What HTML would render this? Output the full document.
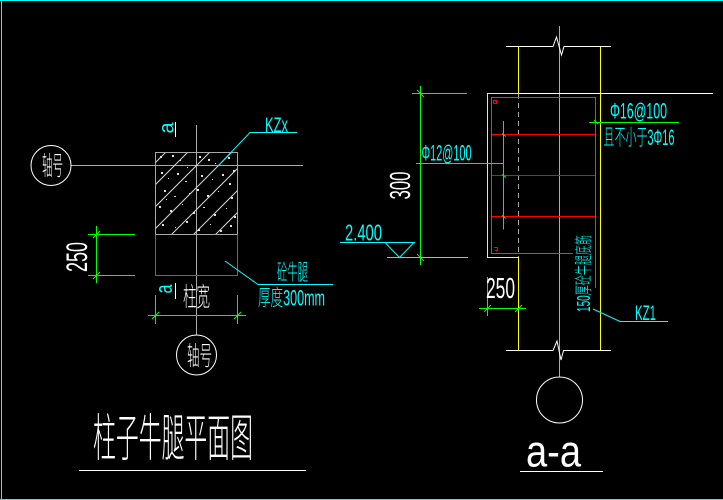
<!DOCTYPE html>
<html><head><meta charset="utf-8"><style>html,body{margin:0;padding:0;background:#000}svg{display:block}.t{font-weight:200}</style></head>
<body>
<svg width="723" height="500" viewBox="0 0 723 500" xmlns="http://www.w3.org/2000/svg" font-family="'Liberation Sans','Noto Sans CJK SC',sans-serif">
<defs>
<clipPath id="hb"><rect x="156" y="153" width="81" height="81"/></clipPath>
</defs>
<rect width="723" height="500" fill="#000"/>
<!-- border -->
<path d="M0 0.5H723M1.5 0V500M0 499.5H723" stroke="#00ffff" stroke-width="1" fill="none"/>

<!-- ============ LEFT: plan ============ -->
<path d="M71 165.5H303M196.5 125V335" stroke="#aaaaaa" stroke-width="1" fill="none"/>
<g clip-path="url(#hb)" stroke="#d8d8d8" stroke-width="1">
<path d="M318 0L0 318M340 0L0 340M362 0L0 362M384 0L0 384M406 0L0 406M428 0L0 428M450 0L0 450M472 0L0 472"/>
</g>
<g fill="#e0e0e0" clip-path="url(#hb)">
<rect x="160" y="156" width="2" height="2"/><rect x="172" y="155" width="2" height="2"/><rect x="180" y="160" width="1" height="1"/>
<rect x="199" y="156" width="2" height="2"/><rect x="208" y="159" width="2" height="2"/><rect x="215" y="163" width="1" height="1"/>
<rect x="228" y="157" width="2" height="2"/><rect x="233" y="170" width="2" height="2"/><rect x="161" y="172" width="2" height="2"/>
<rect x="168" y="178" width="1" height="1"/><rect x="177" y="173" width="2" height="2"/><rect x="185" y="181" width="2" height="1"/>
<rect x="201" y="175" width="2" height="2"/><rect x="212" y="179" width="1" height="1"/><rect x="222" y="174" width="2" height="2"/>
<rect x="229" y="183" width="2" height="2"/><rect x="164" y="190" width="2" height="2"/><rect x="174" y="196" width="2" height="1"/>
<rect x="189" y="193" width="1" height="1"/><rect x="197" y="189" width="2" height="2"/><rect x="207" y="195" width="2" height="2"/>
<rect x="218" y="191" width="1" height="1"/><rect x="231" y="197" width="2" height="2"/><rect x="159" y="206" width="2" height="2"/>
<rect x="170" y="210" width="2" height="2"/><rect x="182" y="204" width="1" height="1"/><rect x="193" y="212" width="2" height="2"/>
<rect x="203" y="207" width="2" height="1"/><rect x="214" y="214" width="2" height="2"/><rect x="226" y="208" width="1" height="1"/>
<rect x="234" y="216" width="2" height="2"/><rect x="162" y="224" width="2" height="2"/><rect x="175" y="227" width="1" height="1"/>
<rect x="186" y="221" width="2" height="2"/><rect x="198" y="229" width="2" height="2"/><rect x="210" y="224" width="1" height="1"/>
<rect x="220" y="230" width="2" height="2"/><rect x="230" y="225" width="2" height="2"/><rect x="187" y="167" width="1" height="1"/>
<rect x="166" y="199" width="1" height="1"/>
</g>
<rect x="155.5" y="152.5" width="82" height="82" fill="none" stroke="#a8a8a8" stroke-width="1"/>
<path d="M155.5 234.5V275.5H237.5V234.5" fill="none" stroke="#ff00ff" stroke-width="1"/>
<circle cx="51" cy="165.5" r="20" fill="none" stroke="#fff" stroke-width="1"/>
<text class="t" x="42" y="175" font-size="26" fill="#fff" textLength="21" lengthAdjust="spacingAndGlyphs">轴号</text>
<circle cx="196.5" cy="355" r="20" fill="none" stroke="#fff" stroke-width="1"/>
<text class="t" x="187" y="365" font-size="26" fill="#fff" textLength="25" lengthAdjust="spacingAndGlyphs">轴号</text>

<path d="M96.5 226V283M88 234.5H135M88 275.5H135" stroke="#00ff00" stroke-width="1" fill="none"/>
<path d="M93 238L100 231M93 279L100 272" stroke="#00ff00" stroke-width="1"/>
<text transform="translate(87,272) rotate(-90)" font-size="30" fill="#fff" textLength="30" lengthAdjust="spacingAndGlyphs">250</text>

<path d="M148 315.5H246M155.5 295V324M237.5 295V324" stroke="#00ff00" stroke-width="1" fill="none"/>
<path d="M152 319L159 312M234 319L241 312" stroke="#00ff00" stroke-width="1"/>
<text class="t" x="183" y="306" font-size="26" fill="#fff" textLength="27" lengthAdjust="spacingAndGlyphs">柱宽</text>

<path d="M175.5 122V137M175.5 283V299" stroke="#fff" stroke-width="1"/>
<text transform="translate(173.5,133.5) rotate(-90)" font-size="21" fill="#00ffff" textLength="11" lengthAdjust="spacingAndGlyphs">a</text>
<text transform="translate(172,293.5) rotate(-90)" font-size="24" fill="#00ffff" textLength="9" lengthAdjust="spacingAndGlyphs">a</text>

<path d="M218 166L250 132.5H297" stroke="#00ffff" stroke-width="1" fill="none"/>
<text x="265" y="132" font-size="21" fill="#00ffff" textLength="23" lengthAdjust="spacingAndGlyphs">KZx</text>
<path d="M225 261L258 284.5H333" stroke="#00ffff" stroke-width="1" fill="none"/>
<text class="t" x="277" y="280" font-size="22" fill="#00ffff" textLength="31" lengthAdjust="spacingAndGlyphs">砼牛腿</text>
<text class="t" x="258" y="305.5" font-size="22" fill="#00ffff" textLength="67" lengthAdjust="spacingAndGlyphs">厚度300mm</text>

<text class="t" x="93" y="456" font-size="51" fill="#fff" textLength="160" lengthAdjust="spacingAndGlyphs">柱子牛腿平面图</text>
<path d="M79 470.5H306" stroke="#fff" stroke-width="1"/>

<!-- ============ RIGHT: section a-a ============ -->
<path d="M559.5 26V377" stroke="#aaaaaa" stroke-width="1"/>
<path d="M506 46.5H553L556.5 37L561.5 55L564 46.5H611" stroke="#fff" stroke-width="1" fill="none"/>
<path d="M506 350.5H553L557 341L561 360L563.5 350.5H611" stroke="#fff" stroke-width="1" fill="none"/>
<path d="M518.5 46.5V93.5H487.5V257.5H518.5V350M600.5 46.5V350" stroke="#ffff00" stroke-width="1" fill="none"/>
<path d="M518.5 94V257" stroke="#aaaaaa" stroke-width="1" stroke-dasharray="5,4"/>
<path d="M519 93.5H713" stroke="#fff" stroke-width="1"/>
<path d="M573 253.5H491.5V97.5H595.5V288" stroke="#ff00ff" stroke-width="1" fill="none"/>
<path d="M492 134.5H595M492 175.5H595M492 216.5H595" stroke="#ff0000" stroke-width="1"/>
<rect x="493.5" y="100.5" width="3" height="3" fill="none" stroke="#ff0000" stroke-width="1"/>
<path d="M494 247.5H497.5V250.5H495" stroke="#ff0000" stroke-width="1" fill="none"/>
<path d="M503.5 121V229.5M416 163.5H503.5" stroke="#00ff00" stroke-width="1" fill="none"/>
<path d="M502 133.5L506 136.5M502 174.5L506 177.5M502 215.5L506 218.5" stroke="#00ff00" stroke-width="1"/>
<path d="M420.5 86V265M412 93.5H467" stroke="#00ff00" stroke-width="1" fill="none"/>
<path d="M387 257.5H468" stroke="#00ffff" stroke-width="1"/>
<path d="M417 90L424 97M417 254L424 261" stroke="#00ff00" stroke-width="1"/>
<text transform="translate(410,199.5) rotate(-90)" font-size="29" fill="#fff" textLength="28" lengthAdjust="spacingAndGlyphs">300</text>
<text x="421.5" y="160.5" font-size="22" fill="#00ffff" textLength="50" lengthAdjust="spacingAndGlyphs">Φ12@100</text>
<path d="M340 242.5H415M385 242.5L399.5 257.5L414 242.5" stroke="#00ffff" stroke-width="1" fill="none"/>
<text x="345" y="240.5" font-size="23" fill="#00ffff" textLength="37" lengthAdjust="spacingAndGlyphs">2.400</text>
<path d="M589 122.5H679" stroke="#00ff00" stroke-width="1"/>
<path d="M594 120L598 124" stroke="#00ff00" stroke-width="1"/>
<text x="610" y="118.5" font-size="22" fill="#00ffff" textLength="57" lengthAdjust="spacingAndGlyphs">Φ16@100</text>
<text class="t" x="603.5" y="145" font-size="22" fill="#00ffff" textLength="71" lengthAdjust="spacingAndGlyphs">且不小于3Φ16</text>
<text class="t" transform="translate(590,312) rotate(-90)" font-size="18" fill="#00ffff" textLength="77" lengthAdjust="spacingAndGlyphs">150厚砼牛腿底筋</text>
<path d="M593 309L620 321.5H668" stroke="#00ffff" stroke-width="1" fill="none"/>
<text x="635" y="320" font-size="21" fill="#00ffff" textLength="21" lengthAdjust="spacingAndGlyphs">KZ1</text>
<path d="M479 308.5H526M487.5 277V316" stroke="#00ff00" stroke-width="1" fill="none"/>
<path d="M484 312L491 305M515 312L522 305" stroke="#00ff00" stroke-width="1"/>
<text x="486" y="298" font-size="29" fill="#fff" textLength="29" lengthAdjust="spacingAndGlyphs">250</text>
<circle cx="559.5" cy="400" r="23" fill="none" stroke="#fff" stroke-width="1"/>
<text class="t" transform="translate(526,466.5) scale(1,1.6)" font-size="28" fill="#fff" textLength="55" lengthAdjust="spacingAndGlyphs">a-a</text>
<path d="M520 471.5H603" stroke="#fff" stroke-width="1"/>
</svg>
</body></html>
